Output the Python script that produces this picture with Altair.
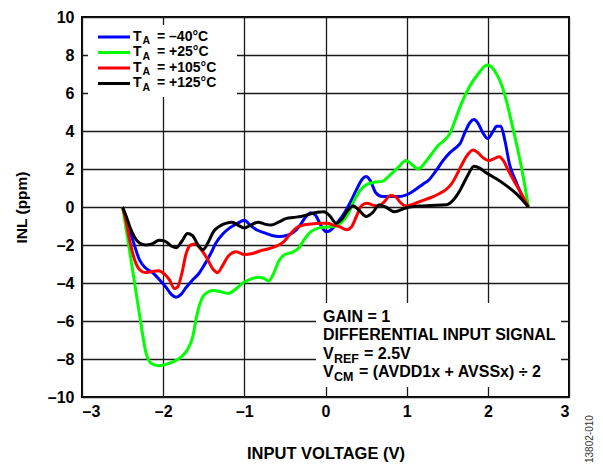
import altair as alt
import pandas as pd

# Axis ticks
x_ticks = [-3, -2, -1, 0, 1, 2, 3]
y_ticks = [-10, -8, -6, -4, -2, 0, 2, 4, 6, 8, 10]

# INL vs input voltage, one array pair per temperature
blue_v = [-2.5, -2.44, -2.37, -2.29, -2.22, -2.13, -2.04, -1.96, -1.90, -1.84, -1.78, -1.72,
          -1.64, -1.56, -1.50, -1.42, -1.35, -1.26, -1.18, -1.08, -1.00, -0.93, -0.85, -0.76,
          -0.66, -0.57, -0.48, -0.40, -0.32, -0.24, -0.18, -0.12, -0.06, 0.01, 0.07, 0.14,
          0.22, 0.30, 0.38, 0.45, 0.50, 0.55, 0.62, 0.70, 0.80, 0.90, 0.97, 1.05, 1.12, 1.20,
          1.28, 1.36, 1.45, 1.53, 1.60, 1.66, 1.72, 1.78, 1.83, 1.88, 1.94, 2.00, 2.06, 2.11,
          2.16, 2.21, 2.27, 2.34, 2.42, 2.5]
blue_inl = [0, -0.9, -1.8, -2.8, -3.2, -3.45, -3.85, -4.25, -4.6, -4.75, -4.6, -4.25,
            -3.85, -3.5, -3.1, -2.5, -1.9, -1.4, -1.1, -0.85, -0.7, -0.95, -1.2, -1.35,
            -1.5, -1.55, -1.5, -1.35, -1.0, -0.5, -0.3, -0.45, -0.95, -1.3, -1.2, -0.85,
            -0.4, 0.2, 0.9, 1.45, 1.6, 1.4, 0.75, 0.55, 0.55, 0.55, 0.6, 0.75, 0.95, 1.2,
            1.45, 1.9, 2.45, 2.85, 3.1, 3.35, 3.95, 4.45, 4.6, 4.4, 3.9, 3.6, 3.95, 4.25,
            4.25, 3.5, 2.2, 1.4, 0.6, 0]

green_v = [-2.5, -2.41, -2.33, -2.27, -2.21, -2.14, -2.06, -1.98, -1.88, -1.78, -1.70, -1.64,
           -1.58, -1.52, -1.46, -1.38, -1.30, -1.20, -1.10, -1.02, -0.92, -0.84, -0.76, -0.70,
           -0.64, -0.57, -0.50, -0.42, -0.34, -0.26, -0.18, -0.08, 0.02, 0.12, 0.20, 0.28,
           0.36, 0.44, 0.52, 0.60, 0.70, 0.80, 0.90, 0.99, 1.06, 1.14, 1.22, 1.30, 1.38,
           1.46, 1.53, 1.60, 1.67, 1.77, 1.88, 1.99, 2.06, 2.12, 2.18, 2.24, 2.30, 2.37,
           2.44, 2.5]
green_inl = [0, -2.4, -4.6, -6.25, -7.7, -8.25, -8.35, -8.3, -8.15, -7.9, -7.5, -6.9,
             -5.6, -4.8, -4.5, -4.4, -4.45, -4.55, -4.3, -4.0, -3.8, -3.7, -3.75, -3.9,
             -3.5, -2.8, -2.5, -2.4, -2.2, -1.7, -1.3, -1.1, -1.05, -1.0, -0.8, -0.35,
             0.4, 0.95, 1.2, 1.3, 1.35, 1.7, 2.1, 2.45, 2.25, 2.0, 2.3, 2.75, 3.2,
             3.5, 3.85, 4.6, 5.4, 6.3, 7.0, 7.47, 7.3, 6.9, 6.3, 5.4, 4.3, 3.0,
             1.5, 0]

red_v = [-2.5, -2.45, -2.41, -2.35, -2.29, -2.22, -2.14, -2.06, -1.98, -1.92, -1.86, -1.82,
         -1.77, -1.72, -1.66, -1.60, -1.54, -1.46, -1.38, -1.33, -1.27, -1.20, -1.10, -1.00,
         -0.90, -0.80, -0.70, -0.60, -0.52, -0.44, -0.36, -0.27, -0.18, -0.08, 0.02, 0.10,
         0.18, 0.26, 0.32, 0.38, 0.44, 0.51, 0.58, 0.64, 0.72, 0.80, 0.86, 0.92, 0.99, 1.08,
         1.20, 1.30, 1.40, 1.48, 1.55, 1.63, 1.70, 1.76, 1.82, 1.88, 1.94, 2.01, 2.08, 2.14,
         2.19, 2.25, 2.32, 2.40, 2.5]
red_inl = [0, -0.9, -1.8, -2.8, -3.3, -3.45, -3.4, -3.35, -3.55, -3.85, -4.3, -4.2,
           -3.5, -2.5, -2.0, -1.95, -2.2, -2.7, -3.3, -3.45, -3.1, -2.6, -2.35, -2.5,
           -2.45, -2.3, -2.2, -2.05, -1.85, -1.45, -1.1, -0.95, -0.9, -0.85, -0.85, -0.95,
           -1.05, -1.2, -1.05, -0.5, 0.05, 0.2, 0.1, 0.05, 0.25, 0.6, 0.55, 0.25, 0.05, 0.15,
           0.35, 0.5, 0.7, 0.9, 1.2, 1.8, 2.4, 2.8, 3.0, 2.85, 2.6, 2.45, 2.55, 2.65,
           2.45, 1.95, 1.4, 0.8, 0]

black_v = [-2.5, -2.45, -2.41, -2.35, -2.29, -2.22, -2.14, -2.05, -1.98, -1.90, -1.84, -1.77,
           -1.70, -1.64, -1.57, -1.51, -1.45, -1.38, -1.30, -1.22, -1.15, -1.08, -1.00, -0.92,
           -0.83, -0.75, -0.67, -0.58, -0.48, -0.40, -0.30, -0.20, -0.10, -0.02, 0.05, 0.13,
           0.20, 0.27, 0.34, 0.42, 0.50, 0.58, 0.66, 0.74, 0.85, 0.99, 1.15, 1.30, 1.49,
           1.58, 1.66, 1.75, 1.83, 1.90, 1.98, 2.10, 2.22, 2.35, 2.5]
black_inl = [0, -0.55, -1.05, -1.6, -1.9, -2.0, -1.95, -1.75, -1.8, -2.05, -2.15, -1.8,
             -1.4, -1.5, -2.0, -2.25, -1.9, -1.3, -1.0, -0.85, -0.8, -0.95, -1.1, -0.95,
             -0.8, -0.9, -0.95, -0.8, -0.6, -0.55, -0.5, -0.38, -0.28, -0.25, -0.45, -0.85,
             -0.65, -0.2, 0.05, -0.2, -0.5, -0.3, 0.1, 0.0, -0.25, -0.05, 0.05, 0.08, 0.12,
             0.4, 0.9, 1.65, 2.15, 2.05, 1.8, 1.5, 1.15, 0.7, 0]

temps = ["–40°C", "+25°C", "+105°C", "+125°C"]
colors = ["#0000FF", "#00FF00", "#FF0000", "#000000"]

FONT = "Liberation Sans"
NEG_LABEL = "datum.value < 0 ? '–' + abs(datum.value) : '' + datum.value"

x_enc = alt.X(
    "v:Q",
    scale=alt.Scale(domain=[-3, 3], nice=False, zero=False),
    axis=alt.Axis(values=x_ticks, title="INPUT VOLTAGE (V)", labelPadding=6,
                  titlePadding=26, titleFontSize=16.5, labelExpr=NEG_LABEL),
)
y_enc = alt.Y(
    "inl:Q",
    scale=alt.Scale(domain=[-10, 10], nice=False, zero=False),
    axis=alt.Axis(values=y_ticks, title="INL (ppm)", labelPadding=8,
                  titlePadding=18, titleFontSize=15.5, labelExpr=NEG_LABEL),
)

one_row = pd.DataFrame({"k": [0]})


def box(x0, x1, y0, y1):
    return alt.Chart(one_row).mark_rect(fill="white").encode(
        x=alt.value(x0), x2=alt.value(x1), y=alt.value(y0), y2=alt.value(y1)
    )


def label(x, y, text, size=16, weight="bold", angle=0, color="black"):
    return alt.Chart(one_row).mark_text(
        text=text, font=FONT, fontSize=size, fontWeight=weight, align="left",
        baseline="alphabetic", color=color, angle=angle
    ).encode(x=alt.value(x), y=alt.value(y))


layers = [box(6, 155, 8, 80), box(234, 479, 286, 370)]

for vs, ys, c in zip([blue_v, green_v, red_v, black_v],
                     [blue_inl, green_inl, red_inl, black_inl], colors):
    df = pd.DataFrame({"v": vs, "inl": ys})
    layers.append(
        alt.Chart(df).mark_line(strokeWidth=3, interpolate="monotone", color=c)
        .encode(x=x_enc, y=y_enc, order="v:Q")
    )

# Legend: swatches and labels with subscript A
legend_y = [20, 35.5, 51, 66.5]
for ly, t, c in zip(legend_y, temps, colors):
    layers.append(
        alt.Chart(one_row).mark_rule(color=c, strokeWidth=3).encode(
            x=alt.value(16), x2=alt.value(48), y=alt.value(ly)
        )
    )
    layers.append(label(51, ly + 3.8, "T", size=14))
    layers.append(label(60.5, ly + 7, "A", size=10.5))
    layers.append(label(75, ly + 3.8, "= " + t, size=14))

# Test conditions
layers += [
    label(241, 305, "GAIN = 1"),
    label(241, 323, "DIFFERENTIAL INPUT SIGNAL"),
    label(241, 341.5, "V"),
    label(252, 345.5, "REF", size=12.5),
    label(282, 341.5, "= 2.5V"),
    label(241, 360, "V"),
    label(252, 364, "CM", size=12.5),
    label(277, 360, "= (AVDD1x + AVSSx) ÷ 2"),
    label(511, 446, "13802-010", size=10, weight="normal", angle=270, color="#333333"),
]

chart = alt.layer(*layers).properties(
    width=487, height=380,
    autosize=alt.AutoSizeParams(type="none"),
    padding={"left": 82, "top": 17, "right": 34, "bottom": 68},
).configure_view(
    stroke="black", strokeWidth=2
).configure_axis(
    labelFont=FONT, labelFontWeight="bold", labelFontSize=16, labelColor="black",
    titleFont=FONT, titleFontWeight="bold", titleColor="black",
    grid=True, gridColor="#1a1a1a", gridWidth=1.3, gridOpacity=1,
    domain=False, ticks=False,
)

chart.save("out.html", embed_options={"renderer": "svg", "actions": False})
